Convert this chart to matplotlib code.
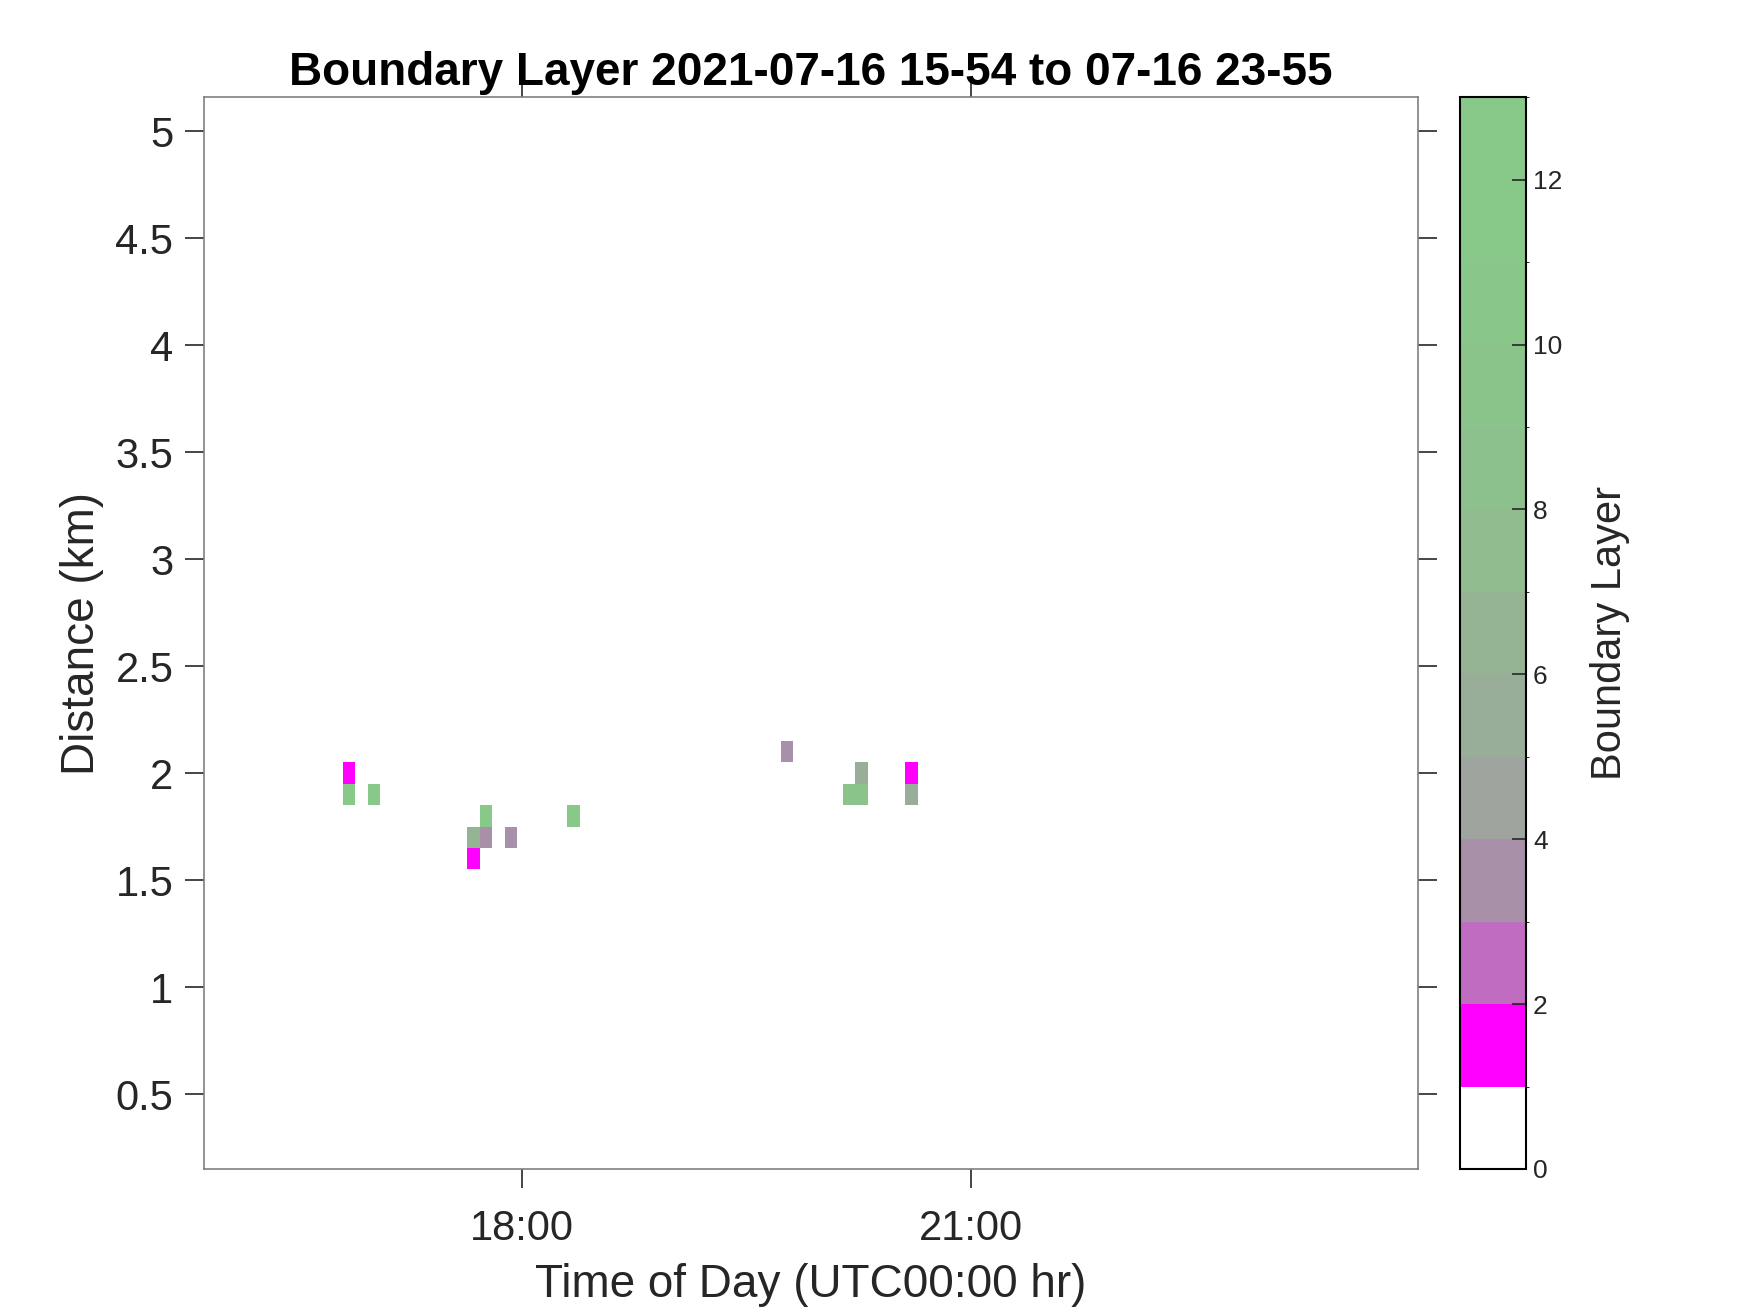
import numpy as np
import matplotlib
matplotlib.use('Agg')
import matplotlib.pyplot as plt
from matplotlib.colors import ListedColormap, BoundaryNorm

plt.rcParams['font.family'] = ['Liberation Sans', 'DejaVu Sans']

# cell start times (minutes after 00:00 UTC), range gate centres (km), class values
cell_start_min = [1008, 1008, 1018, 1058, 1058, 1063, 1063, 1073, 1098,
                  1183.5, 1208.5, 1213.5, 1213.5, 1233.5, 1233.5]
cell_range_km = [2.0, 1.9, 1.9, 1.7, 1.6, 1.8, 1.7, 1.7, 1.8,
                 2.1, 1.9, 1.9, 2.0, 2.0, 1.9]
cell_value = [1.5, 12.5, 12.5, 6.5, 1.5, 12.5, 3.5, 3.5, 12.5,
              3.5, 9.5, 9.5, 5.5, 1.5, 5.5]
bin_min = 5
gate_km = 0.1

# colour levels 0..13
level_colors = ['#ffffff', '#ff00ff', '#c06cc0', '#a890a8', '#a0a49e',
                '#98ae98', '#94b494', '#90bc90', '#8cc08c', '#8ac48a',
                '#89c689', '#88c888', '#88c888']
cmap = ListedColormap(level_colors)
norm = BoundaryNorm(np.arange(0, 14), cmap.N)

# build mesh
t_edges = np.unique(np.concatenate([cell_start_min,
                                    np.array(cell_start_min) + bin_min]))
r_edges = np.round(np.arange(0.15, 5.16, gate_km), 3)
Z = np.full((len(r_edges) - 1, len(t_edges) - 1), np.nan)
for t, r, v in zip(cell_start_min, cell_range_km, cell_value):
    i = int(round((r - gate_km / 2 - r_edges[0]) / gate_km))
    j = int(np.searchsorted(t_edges, t))
    Z[i, j] = v
Z = np.ma.masked_invalid(Z)

fig = plt.figure(figsize=(17.5, 13.13), dpi=100)
ax = fig.add_axes([0.1166, 0.1097, 0.6937, 0.8163])
cax = fig.add_axes([0.8343, 0.1097, 0.0377, 0.8163])

mesh = ax.pcolormesh(t_edges / 60.0, r_edges, Z, cmap=cmap, norm=norm,
                     shading='flat')

ax.set_xlim(15.873, 23.985)
ax.set_ylim(0.15, 5.16)
ax.set_xticks([18, 21])
ax.set_xticklabels(['18:00', '21:00'])
ax.set_yticks(np.arange(0.5, 5.01, 0.5))
ax.set_yticklabels(['0.5', '1', '1.5', '2', '2.5', '3', '3.5', '4', '4.5', '5'])
ax.tick_params(axis='both', direction='out', length=14, width=1.2,
               labelsize=30, colors='#262626', top=True, right=True)
ax.tick_params(axis='x', pad=15)
ax.tick_params(axis='y', pad=8)
for s in ax.spines.values():
    s.set_color('#808080')
    s.set_linewidth(1.2)

ax.set_xlabel('Time of Day (UTC00:00 hr)', fontsize=33, color='#262626', labelpad=10)
ax.set_ylabel('Distance (km)', fontsize=33, color='#262626', labelpad=8)
ax.set_title('Boundary Layer 2021-07-16 15-54 to 07-16 23-55',
             fontsize=33, fontweight='bold', pad=9)

cb = fig.colorbar(mesh, cax=cax, ticks=np.arange(0, 13, 2))
cb.outline.set_linewidth(1.5)
cb.ax.tick_params(labelsize=19, direction='in', length=10, width=1.2,
                  colors='#262626', pad=5)
cb.set_label('Boundary Layer', fontsize=30, color='#262626', labelpad=20)

fig.savefig('out.png', dpi=100)
